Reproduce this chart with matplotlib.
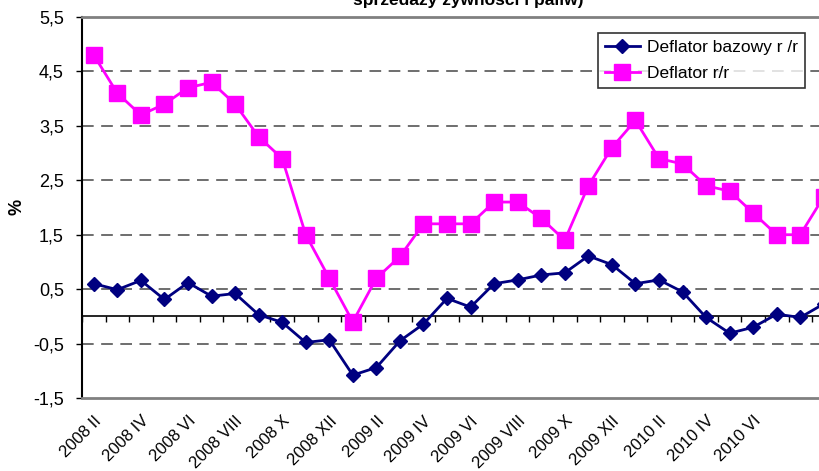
import numpy as np
import matplotlib
matplotlib.use("Agg")
import matplotlib.pyplot as plt

plt.rcParams['font.family'] = ['Liberation Sans', 'DejaVu Sans']

categories = (["2008 " + m for m in ["II", "III", "IV", "V", "VI", "VII", "VIII", "IX", "X", "XI", "XII"]]
              + ["2009 " + m for m in ["I", "II", "III", "IV", "V", "VI", "VII", "VIII", "IX", "X", "XI", "XII"]]
              + ["2010 " + m for m in ["I", "II", "III", "IV", "V", "VI", "VII", "VIII", "IX"]])
# labels shown every second month, up to 2010 VI
tick_labels = ["2008 II", "2008 IV", "2008 VI", "2008 VIII", "2008 X", "2008 XII",
               "2009 II", "2009 IV", "2009 VI", "2009 VIII", "2009 X", "2009 XII",
               "2010 II", "2010 IV", "2010 VI"]

deflator_bazowy = [0.60, 0.49, 0.66, 0.31, 0.62, 0.37, 0.42, 0.03, -0.11, -0.48, -0.43,
                   -1.08, -0.94, -0.45, -0.14, 0.33, 0.17, 0.60, 0.67, 0.76, 0.80,
                   1.11, 0.95, 0.60, 0.67, 0.45, -0.02, -0.31, -0.20, 0.04, -0.02, 0.23]
deflator = [4.8, 4.1, 3.7, 3.9, 4.2, 4.3, 3.9, 3.3, 2.9, 1.5, 0.7,
            -0.1, 0.7, 1.1, 1.7, 1.7, 1.7, 2.1, 2.1, 1.8, 1.4,
            2.4, 3.1, 3.6, 2.9, 2.8, 2.4, 2.3, 1.9, 1.5, 1.5, 2.2]

yticks = [-1.5, -0.5, 0.5, 1.5, 2.5, 3.5, 4.5, 5.5]
ytick_labels = ["-1,5", "-0,5", "0,5", "1,5", "2,5", "3,5", "4,5", "5,5"]

title = "sprzedaży żywności i paliw)"

W, H = 819, 471
fig = plt.figure(figsize=(W / 100, H / 100), dpi=100)
n = len(deflator)
x = np.arange(n)
cat_px = 23.55
left_px = 82
right_px = left_px + cat_px * n
ax = fig.add_axes([left_px / W, (H - 398) / H, (right_px - left_px) / W, (398 - 17) / H])

ymin, ymax = -1.5, 5.5
ax.set_ylim(ymin, ymax)
ax.set_xlim(-0.5, n - 0.5)

# grid lines
for yv in yticks[1:-1]:
    ax.axhline(yv, color="#555555", lw=1.2, dashes=(7, 4.5), zorder=1)

ax.plot(x, deflator_bazowy, color="#000080", lw=2, marker="D", markersize=7.5,
        label="Deflator bazowy r /r", zorder=3)
ax.plot(x, deflator, color="#FF00FF", lw=2, marker="s", markersize=11,
        label="Deflator r/r", zorder=3)

# spines
ax.spines['left'].set_color("black")
ax.spines['left'].set_linewidth(1.5)
for s in ['top', 'bottom', 'right']:
    ax.spines[s].set_color("#808080")
    ax.spines[s].set_linewidth(2)

ax.set_yticks(yticks)
ax.set_yticklabels(ytick_labels, fontsize=13)
ax.tick_params(axis='y', direction='out', length=4, width=1, pad=9, color="black")

lab_pos = x[::2][:len(tick_labels)]
ax.set_xticks(lab_pos)
ax.set_xticklabels(tick_labels, rotation=45, ha='right', rotation_mode='anchor',
                   fontsize=12)
ax.tick_params(axis='x', length=0, pad=11)

# zero axis with category ticks
ax.axhline(0, color="black", lw=1.2, zorder=2)
sec = ax.secondary_xaxis((0 - ymin) / (ymax - ymin))
sec.spines['bottom'].set_visible(False)
sec.set_xticks(np.arange(-0.5, n + 0.5, 1))
sec.set_xticklabels([])
sec.tick_params(axis='x', direction='out', length=4, width=1, color="black")

fig.text(17 / W, 1 - 207 / H, "%", rotation=90, ha='center', va='center',
         fontsize=13, fontweight='bold')

leg = ax.legend(loc='upper left',
                bbox_to_anchor=((598 - left_px) / (right_px - left_px), 1 - (33 - 17) / (398 - 17)),
                fontsize=12.5, frameon=True, fancybox=False, edgecolor="black",
                borderpad=0.4, handlelength=2.0, handletextpad=0.45,
                labelspacing=0.6, borderaxespad=0)
leg.get_frame().set_linewidth(1.2)

fig.text(468 / W, 1 - 5 / H, title, ha='center', va='baseline', fontsize=12.5,
         fontweight='bold')

fig.savefig("out.png", dpi=100)
